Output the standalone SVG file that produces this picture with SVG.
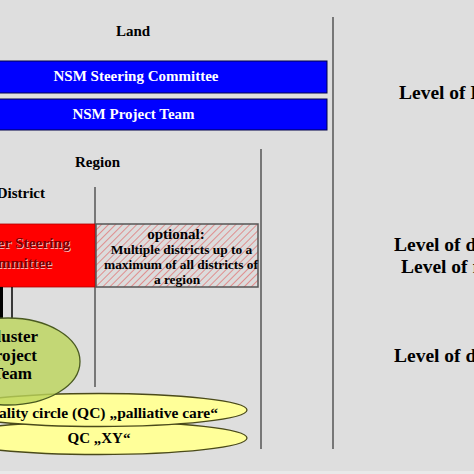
<svg xmlns="http://www.w3.org/2000/svg" width="474" height="474" viewBox="0 0 474 474">
  <defs>
    <pattern id="hatch" patternUnits="userSpaceOnUse" width="5" height="5" patternTransform="rotate(45)">
      <rect width="5" height="5" fill="#dcdcdc"/>
      <line x1="0" y1="0" x2="0" y2="5" stroke="#e07a7a" stroke-width="1.6"/>
    </pattern>
  </defs>
  <style>
    text { font-family: "Liberation Serif", "Times New Roman", serif; font-weight: bold; }
    .lbl { fill: #000; font-size: 15px; }
    .lvl { fill: #000; font-size: 19.5px; }
    .wht { fill: #fff; font-size: 15px; }
    .red { fill: #7a0000; font-size: 15.5px; }
    .redsh { fill: #ffb0b0; font-size: 15.5px; }
    .opt { fill: #000; font-size: 13.4px; }
    .sep { stroke: #555; stroke-width: 1.5; fill: none; }
    .blue { fill: #0000ff; stroke: #00004a; stroke-width: 1; }
    .yel { fill: #ffff99; stroke: #4a4a1a; stroke-width: 1.3; }
  </style>
  <rect x="0" y="0" width="474" height="474" fill="#dedede"/>
  <rect x="0" y="471" width="474" height="3" fill="#e9e9e9"/>

  <g id="separators">
    <line class="sep" x1="333" y1="17" x2="333" y2="449"/>
    <line class="sep" x1="261" y1="149" x2="261" y2="449"/>
    <line class="sep" x1="95" y1="187" x2="95" y2="387"/>
  </g>

  <g id="labels">
    <text class="lbl" x="133" y="36" text-anchor="middle">Land</text>
    <text class="lbl" x="97.5" y="167" text-anchor="middle">Region</text>
    <text class="lbl" x="45" y="198" text-anchor="end">District</text>
    <text class="lvl" x="399" y="99">Level of Land</text>
    <text class="lvl" x="394" y="251">Level of district</text>
    <text class="lvl" x="401" y="273">Level of region</text>
    <text class="lvl" x="394" y="362">Level of district</text>
  </g>

  <g id="nsm-steering">
    <rect class="blue" x="-2" y="61" width="329" height="32"/>
    <text class="wht" x="136" y="81" text-anchor="middle">NSM Steering Committee</text>
  </g>
  <g id="nsm-project">
    <rect class="blue" x="-2" y="99" width="329" height="31"/>
    <text class="wht" x="133.5" y="119" text-anchor="middle">NSM Project Team</text>
  </g>

  <g id="cluster-steering">
    <rect x="-2" y="224" width="97" height="63" fill="#ff0000" stroke="#b00000" stroke-width="0.8"/>
    <text class="redsh" x="71" y="249" text-anchor="end">Cluster Steering</text>
    <text class="redsh" x="53" y="269" text-anchor="end">Committee</text>
    <text class="red" x="70" y="248" text-anchor="end">Cluster Steering</text>
    <text class="red" x="52" y="268" text-anchor="end">Committee</text>
  </g>

  <g id="optional">
    <rect x="96" y="224" width="162" height="63" fill="url(#hatch)" stroke="#555" stroke-width="1.5"/>
    <text class="lbl" x="176" y="238.5" text-anchor="middle">optional:</text>
    <text class="opt" x="181.5" y="253.5" text-anchor="middle">Multiple districts up to a</text>
    <text class="opt" x="181" y="268.5" text-anchor="middle">maximum of all districts of</text>
    <text class="opt" x="177" y="283.5" text-anchor="middle">a region</text>
  </g>

  <g id="connectors">
    <line x1="1.5" y1="287" x2="1.5" y2="318" stroke="#000" stroke-width="3"/>
    <line x1="12" y1="287" x2="12" y2="318" stroke="#000" stroke-width="1.5"/>
  </g>

  <g id="qc-xy">
    <ellipse class="yel" cx="99" cy="438" rx="148" ry="16.5"/>
    <text class="lbl" x="99" y="443" text-anchor="middle">QC „XY“</text>
  </g>
  <g id="qc-palliative">
    <ellipse class="yel" cx="99" cy="410" rx="148" ry="16.5"/>
    <text class="lbl" x="218" y="418" font-size="15.5" style="font-size:15.5px" text-anchor="end">Quality circle (QC) „palliative care“</text>
  </g>

  <g id="cluster-project">
    <ellipse cx="8" cy="361.5" rx="72" ry="43.5" fill="#bcd55a" fill-opacity="0.8" stroke="#4a5a20" stroke-width="1.3"/>
    <text x="38" y="342" font-size="17" text-anchor="end" fill="#000">Cluster</text>
    <text x="37" y="361" font-size="17" text-anchor="end" fill="#000">Project</text>
    <text x="32" y="379" font-size="17" text-anchor="end" fill="#000">Team</text>
  </g>
</svg>
